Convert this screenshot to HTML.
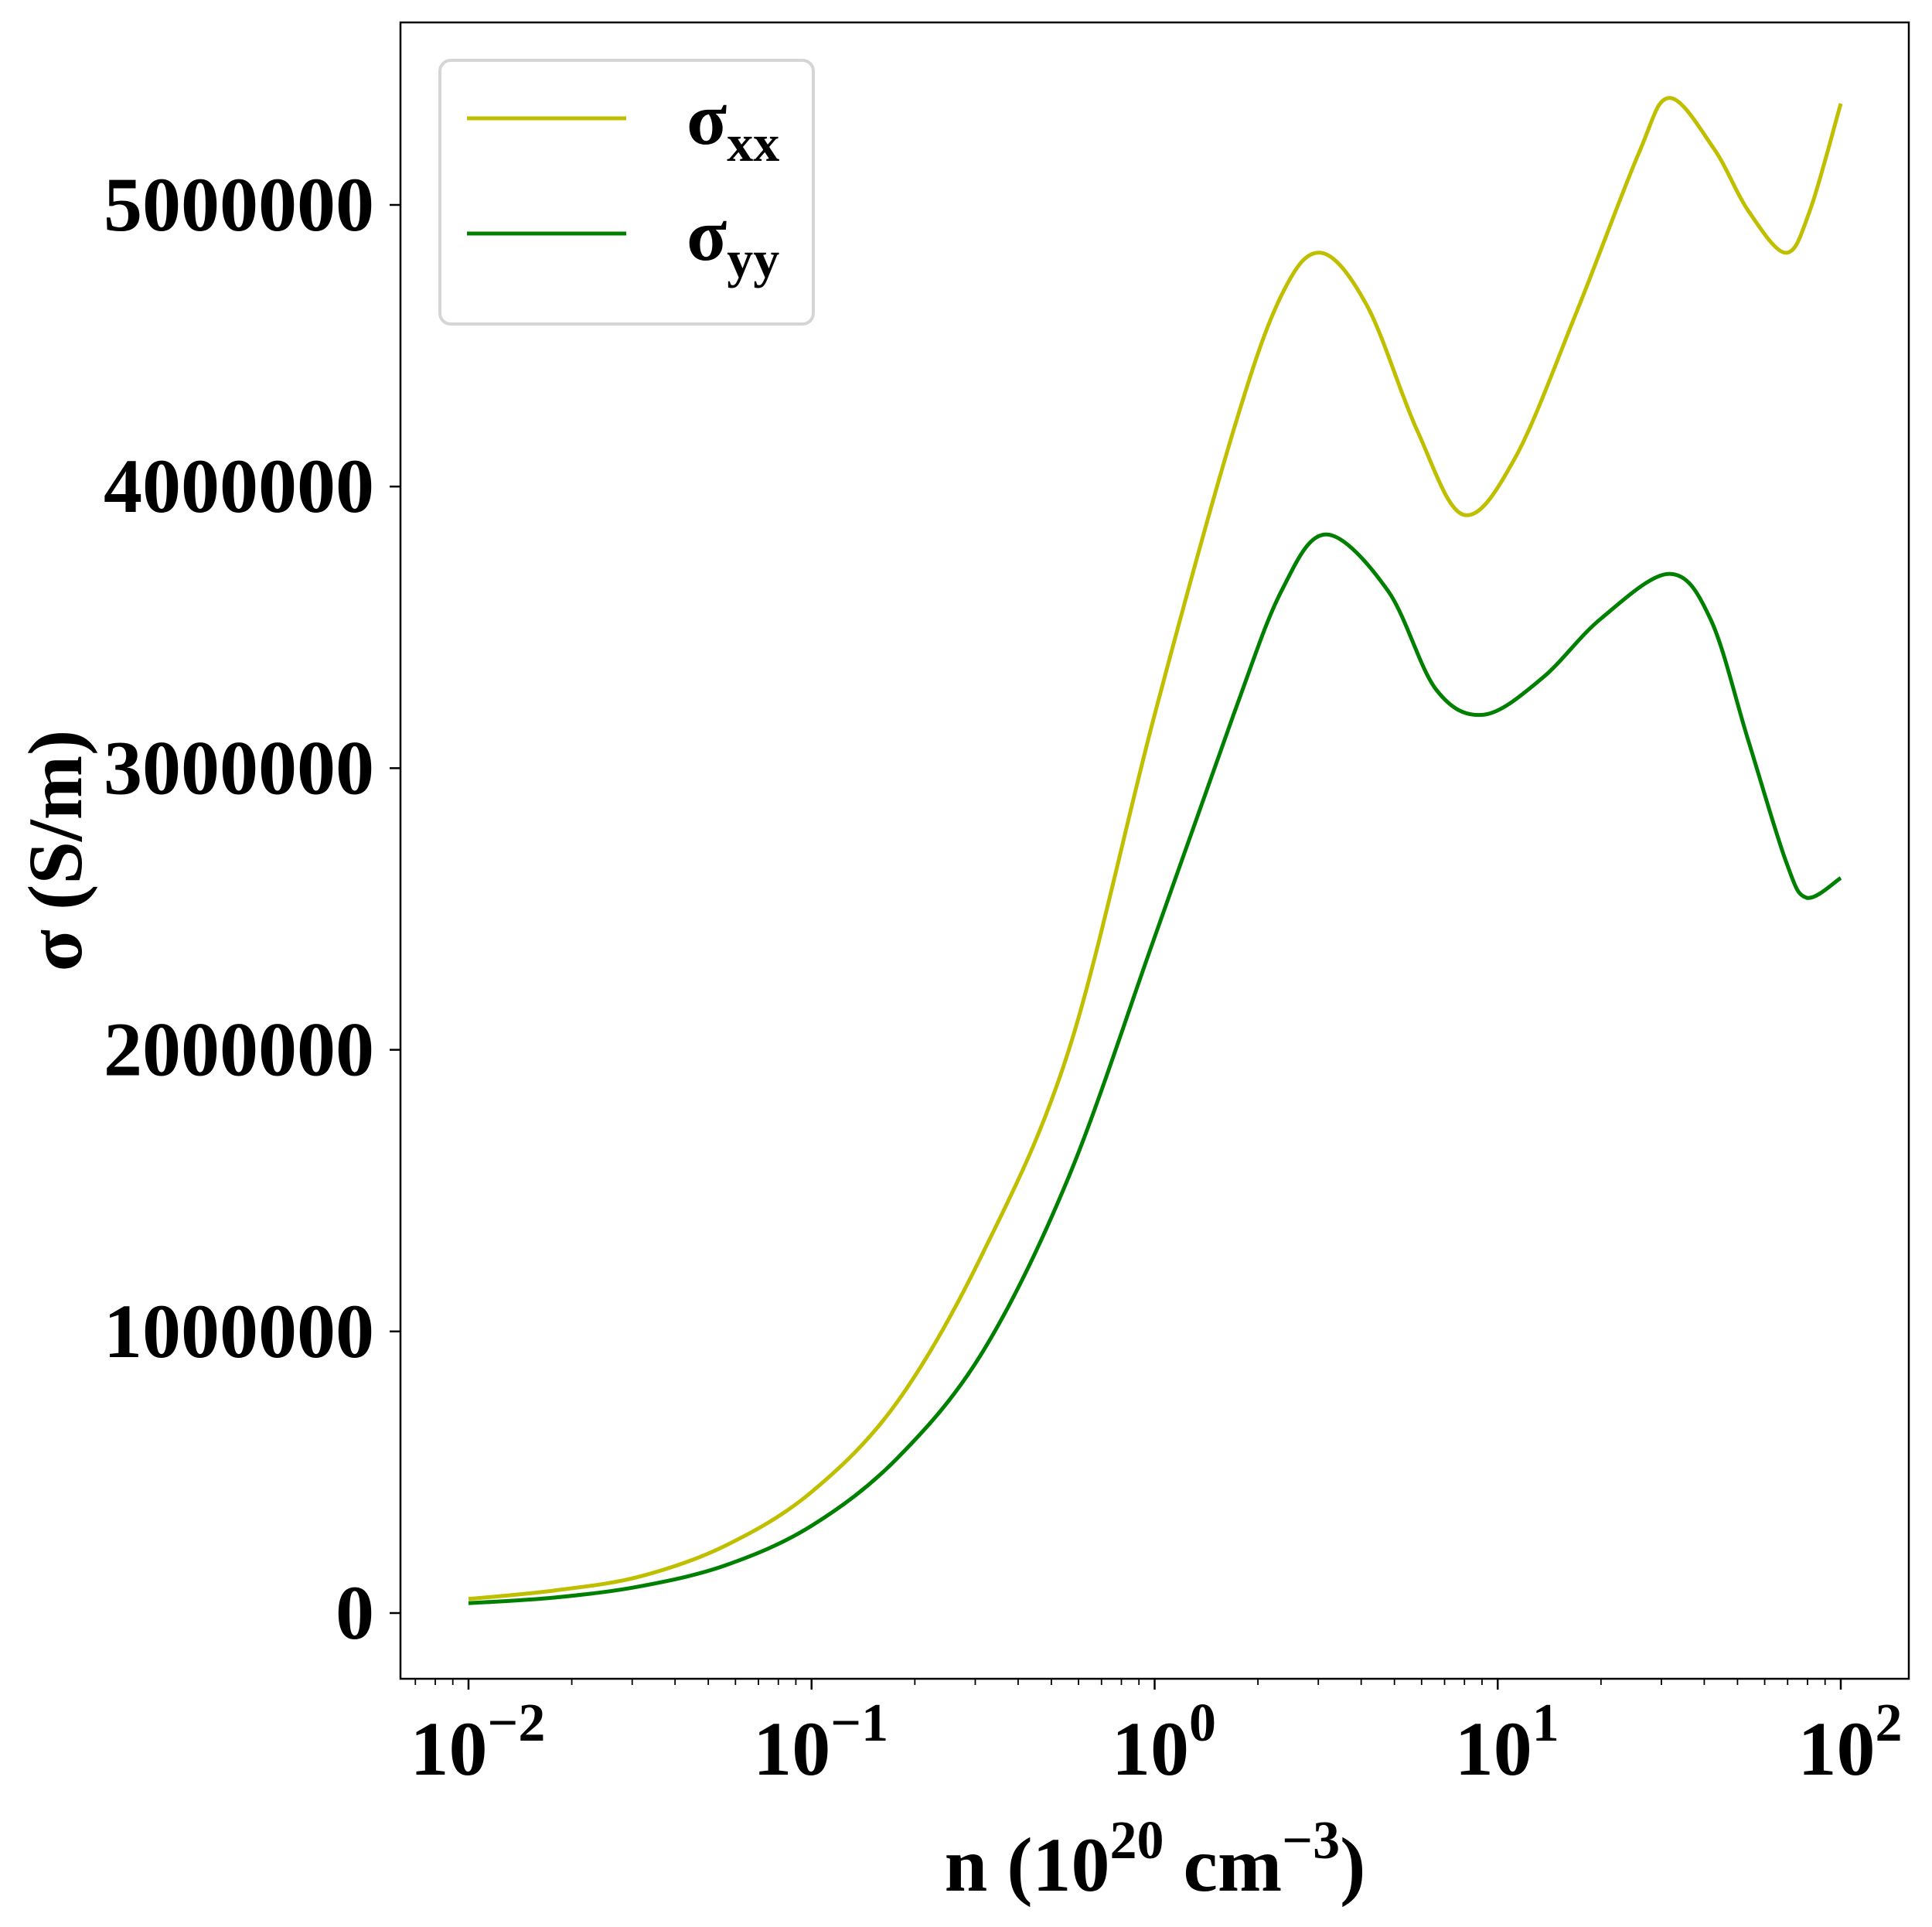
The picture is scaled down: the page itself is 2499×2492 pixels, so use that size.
<!DOCTYPE html>
<html><head><meta charset="utf-8"><style>
html,body{margin:0;padding:0;background:#fff;}
svg{display:block;}
text{font-family:"Liberation Serif","Times New Roman",serif;font-weight:700;}
</style></head><body>
<svg id="chart" width="2499" height="2492" viewBox="0 0 2499 2492" xmlns="http://www.w3.org/2000/svg">
<rect x="518" y="29" width="1951" height="2142" fill="#fff" stroke="#000" stroke-width="2.5"/>
<g id="ticks"></g>
<g id="lines"></g>
<g>
<rect x="569" y="78" width="483" height="341" rx="14" fill="#fff" stroke="#d5d5d5" stroke-width="4"/>
<line x1="604" y1="153" x2="810" y2="153" stroke="#bfbf00" stroke-width="5"/>
<text font-family="Liberation Serif" font-weight="bold" x="888" y="186" font-size="96">σ<tspan font-size="68" dy="22">xx</tspan></text>
<line x1="604" y1="302" x2="810" y2="302" stroke="#008000" stroke-width="5"/>
<text font-family="Liberation Serif" font-weight="bold" x="888" y="336" font-size="96">σ<tspan font-size="68" dy="22">yy</tspan></text>
</g>
<text font-family="Liberation Serif" font-weight="bold" x="1494" y="2445" text-anchor="middle" font-size="100">n (10<tspan font-size="70" dy="-42">20</tspan><tspan dy="42"> cm</tspan><tspan font-size="70" dy="-42">−3</tspan><tspan dy="42">)</tspan></text>
<text font-family="Liberation Serif" font-weight="bold" transform="translate(105,1100) rotate(-90)" text-anchor="middle" font-size="100">σ (S/m)</text>
</svg>
<script>
const yTicks = [0,1000000,2000000,3000000,4000000,5000000];
const xTickExp = [-2,-1,0,1,2];
const xxLogN = [-2,-1.75,-1.5,-1.25,-1,-0.75,-0.5,-0.25,0,0.23,0.37,0.485,0.62,0.765,0.9,1.05,1.23,1.41,1.5,1.63,1.73,1.84,1.91,2];
const xxVal = [0.05,0.08,0.13,0.24,0.43,0.75,1.28,2.0,3.19,4.2,4.68,4.83,4.64,4.20,3.9,4.1,4.62,5.18,5.38,5.2,4.98,4.83,4.98,5.36];
const yyLogN = [-2,-1.75,-1.5,-1.25,-1,-0.75,-0.5,-0.25,0,0.23,0.37,0.5,0.68,0.82,0.96,1.13,1.3,1.5,1.62,1.73,1.84,1.9,2];
const yyVal = [0.035,0.055,0.095,0.17,0.31,0.55,0.93,1.55,2.4,3.19,3.63,3.83,3.63,3.28,3.19,3.32,3.53,3.69,3.53,3.1,2.67,2.54,2.61];

const NS="http://www.w3.org/2000/svg";
function xs(lg){return 606 + (lg+2)*443.75;}
function ys(v){return 2086 - v/1e6*364.2;}
const tg=document.getElementById('ticks');
function mk(t,a){const e=document.createElementNS(NS,t);for(const k in a)e.setAttribute(k,a[k]);return e;}
yTicks.forEach(v=>{
  const l=mk('line',{x1:504,x2:518,y1:ys(v),y2:ys(v),stroke:'#000','stroke-width':2.5});
  
  
  tg.appendChild(l);
  const t=mk('text',{x:484,y:ys(v)+33,'text-anchor':'end','font-size':100,'font-family':'Liberation Serif','font-weight':'bold'});
  
  
  t.textContent=String(v);tg.appendChild(t);
});
for(let d=-3;d<=2;d++){for(let m=1;m<10;m++){
  const lg=d+Math.log10(m);const x=xs(lg);
  if(x<518||x>2469)continue;
  const major=m===1;
  const l=mk('line',{x1:x,x2:x,y1:2171,y2:2171+(major?14:8),stroke:'#000','stroke-width':major?2.5:1.8});
  
  
  tg.appendChild(l);
}}
xTickExp.forEach(e=>{
  const t=mk('text',{x:xs(e)+12,y:2295,'text-anchor':'middle','font-size':100,'font-family':'Liberation Serif','font-weight':'bold'});
  
  
  t.innerHTML='10<tspan font-size="70" dy="-44">'+(e<0?'−'+(-e):e)+'</tspan>';
  tg.appendChild(t);
});
function path(lx,vy){
  const p=lx.map((l,i)=>[xs(l),ys(vy[i]*1e6)]);
  let d='M'+p[0][0]+','+p[0][1];
  for(let i=0;i<p.length-1;i++){
    const p0=p[Math.max(0,i-1)],p1=p[i],p2=p[i+1],p3=p[Math.min(p.length-1,i+2)];
    const c1=[p1[0]+(p2[0]-p0[0])/6,p1[1]+(p2[1]-p0[1])/6];
    const c2=[p2[0]-(p3[0]-p1[0])/6,p2[1]-(p3[1]-p1[1])/6];
    d+=' C'+c1+' '+c2+' '+p2;
  }
  return d;
}
const lg=document.getElementById('lines');
const a=mk('path',{d:path(xxLogN,xxVal),fill:'none',stroke:'#bfbf00','stroke-width':5});


lg.appendChild(a);
const b=mk('path',{d:path(yyLogN,yyVal),fill:'none',stroke:'#008000','stroke-width':5});


lg.appendChild(b);
</script>
</body></html>
